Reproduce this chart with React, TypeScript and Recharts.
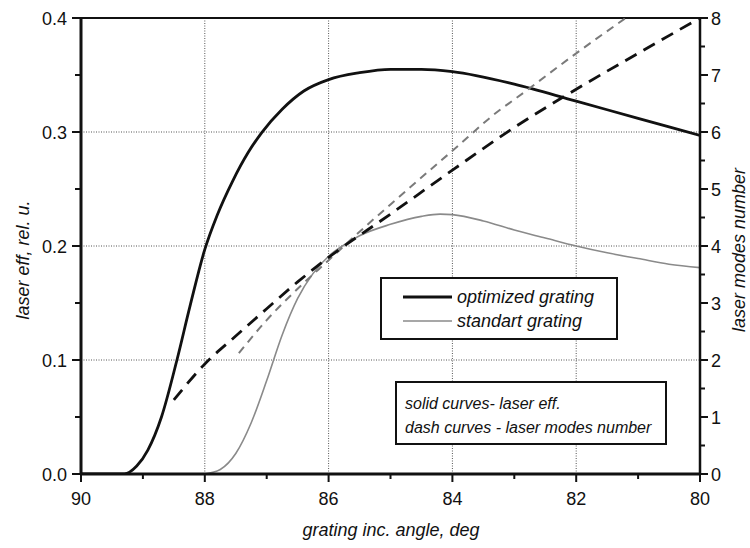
import React from 'react'
import { ComposedChart, Line, XAxis, YAxis, ReferenceLine } from 'recharts'

// optimized grating, laser efficiency (left axis)
const optAngle = [90, 89.5, 89.3, 89.1, 88.92, 88.7, 88.45, 88.24, 88.0, 87.8, 87.55, 87.3, 87.08, 86.75, 86.4, 86.0, 85.5, 85.0, 84.5, 84.0, 83.0, 82.0, 81.0, 80.0]
const optEff = [0, 0, 0, 0.007, 0.021, 0.05, 0.1, 0.147, 0.197, 0.227, 0.257, 0.282, 0.2995, 0.32, 0.336, 0.346, 0.352, 0.355, 0.355, 0.353, 0.342, 0.327, 0.312, 0.297]

// standart grating, laser efficiency (left axis)
const stdAngle = [88.0, 87.75, 87.5, 87.25, 87.0, 86.75, 86.5, 86.25, 86.0, 85.75, 85.5, 85.0, 84.5, 84.2, 84.0, 83.5, 83.0, 82.5, 82.0, 81.5, 81.0, 80.5, 80.0]
const stdEff = [0, 0.004, 0.018, 0.045, 0.082, 0.122, 0.154, 0.176, 0.191, 0.201, 0.209, 0.219, 0.226, 0.228, 0.2275, 0.222, 0.214, 0.207, 0.2, 0.194, 0.189, 0.184, 0.181]

// laser modes number (right axis)
const optModesAngle = [88.5, 88.0, 87.5, 87.0, 86.5, 86.0, 85.0, 84.0, 83.0, 82.0, 81.0, 80.0]
const optModes = [1.3, 1.93, 2.42, 2.9, 3.37, 3.8, 4.56, 5.33, 6.08, 6.75, 7.38, 8.0]
const stdModesAngle = [87.45, 87.0, 86.5, 86.0, 85.5, 85.0, 84.0, 83.23, 83.0, 82.0, 81.2]
const stdModes = [2.12, 2.7, 3.25, 3.75, 4.25, 4.73, 5.67, 6.39, 6.57, 7.38, 8.0]

const xTicks = [90, 89, 88, 87, 86, 85, 84, 83, 82, 81, 80]
const effTicks = [0, 0.05, 0.1, 0.15, 0.2, 0.25, 0.3, 0.35, 0.4]
const modeTicks = [0, 0.5, 1, 1.5, 2, 2.5, 3, 3.5, 4, 4.5, 5, 5.5, 6, 6.5, 7, 7.5, 8]
const xGrid = [88, 86, 84, 82]
const effGrid = [0.1, 0.2, 0.3]

const toPoints = (xs: number[], ys: number[]) => xs.map((x, i) => ({ x, y: ys[i] }))
const optimizedData = toPoints(optAngle, optEff)
const standartData = toPoints(stdAngle, stdEff)
const optModesData = toPoints(optModesAngle, optModes)
const stdModesData = toPoints(stdModesAngle, stdModes)

const FONT = '"Liberation Sans", Arial, sans-serif'
const INK = '#111'

const XTick = (props: any) => {
  const { x, y, payload } = props
  const major = payload.value % 2 === 0
  return (
    <g>
      <line x1={x} y1={y} x2={x} y2={y + (major ? 8 : 5)} stroke={INK} strokeWidth={2} />
      {major && (
        <text x={x} y={y + 31} textAnchor="middle" fontSize={18} fontFamily={FONT} fill={INK}>
          {payload.value}
        </text>
      )}
    </g>
  )
}

const LeftTick = (props: any) => {
  const { x, y, payload } = props
  const v = payload.value
  const major = Math.abs(v * 10 - Math.round(v * 10)) < 1e-6
  return (
    <g>
      <line x1={x} y1={y} x2={x - (major ? 9 : 6)} y2={y} stroke={INK} strokeWidth={2} />
      {major && (
        <text x={x - 14} y={y + 6.5} textAnchor="end" fontSize={18} fontFamily={FONT} fill={INK}>
          {v.toFixed(1)}
        </text>
      )}
    </g>
  )
}

const RightTick = (props: any) => {
  const { x, y, payload } = props
  const v = payload.value
  const major = Number.isInteger(v)
  return (
    <g>
      <line x1={x} y1={y} x2={x + (major ? 8 : 5)} y2={y} stroke={INK} strokeWidth={2} />
      {major && (
        <text x={x + 11} y={y + 6.5} textAnchor="start" fontSize={18} fontFamily={FONT} fill={INK}>
          {v}
        </text>
      )}
    </g>
  )
}

export default function App() {
  return (
    <div style={{ position: 'absolute', left: 0, top: 0, width: 750, height: 548, background: '#fff' }}>
      <ComposedChart width={750} height={548} margin={{ top: 18, right: 0, bottom: 0, left: 0 }}>
        <XAxis
          type="number"
          dataKey="x"
          domain={[80, 90]}
          reversed
          ticks={xTicks}
          interval={0}
          tickSize={0}
          tickMargin={0}
          tickLine={false}
          axisLine={{ stroke: INK, strokeWidth: 3 }}
          tick={(p: any) => <XTick {...p} />}
          height={74}
          allowDataOverflow
        />
        <YAxis
          yAxisId="left"
          type="number"
          domain={[0, 0.4]}
          ticks={effTicks}
          interval={0}
          tickSize={0}
          tickMargin={0}
          tickLine={false}
          axisLine={{ stroke: INK, strokeWidth: 3 }}
          tick={(p: any) => <LeftTick {...p} />}
          width={81}
          allowDataOverflow
        />
        <YAxis
          yAxisId="right"
          orientation="right"
          type="number"
          domain={[0, 8]}
          ticks={modeTicks}
          interval={0}
          tickSize={0}
          tickMargin={0}
          tickLine={false}
          axisLine={{ stroke: INK, strokeWidth: 2.5 }}
          tick={(p: any) => <RightTick {...p} />}
          width={50}
          allowDataOverflow
        />
        {xGrid.map((g) => (
          <ReferenceLine key={'x' + g} x={g} yAxisId="left" stroke="#555" strokeWidth={1} strokeDasharray="1 1.5" />
        ))}
        {effGrid.map((g) => (
          <ReferenceLine key={'y' + g} y={g} yAxisId="left" stroke="#555" strokeWidth={1} strokeDasharray="1 1.5" />
        ))}
        <ReferenceLine y={0.4} yAxisId="left" stroke={INK} strokeWidth={2} />
        <Line
          yAxisId="left"
          data={standartData}
          dataKey="y"
          type="monotone"
          stroke="#8a8a8a"
          strokeWidth={1.6}
          dot={false}
          activeDot={false}
          isAnimationActive={false}
        />
        <Line
          yAxisId="left"
          data={optimizedData}
          dataKey="y"
          type="monotone"
          stroke={INK}
          strokeWidth={2.8}
          dot={false}
          activeDot={false}
          isAnimationActive={false}
        />
        <Line
          yAxisId="right"
          data={stdModesData}
          dataKey="y"
          type="monotone"
          stroke="#7a7a7a"
          strokeWidth={2}
          strokeDasharray="8 6"
          dot={false}
          activeDot={false}
          isAnimationActive={false}
        />
        <Line
          yAxisId="right"
          data={optModesData}
          dataKey="y"
          type="monotone"
          stroke={INK}
          strokeWidth={2.8}
          strokeDasharray="13 8"
          dot={false}
          activeDot={false}
          isAnimationActive={false}
        />
      </ComposedChart>
      <svg
        width={750}
        height={548}
        style={{ position: 'absolute', left: 0, top: 0, pointerEvents: 'none' }}
        fontFamily={FONT}
        fontStyle="italic"
        fill={INK}
      >
        <text x={29} y={260} fontSize={18} textAnchor="middle" transform="rotate(-90 29 260)">
          laser eff, rel. u.
        </text>
        <text x={745} y={250} fontSize={18} textAnchor="middle" transform="rotate(-90 745 250)">
          laser modes number
        </text>
        <text x={391} y={536} fontSize={18} textAnchor="middle">
          grating inc. angle, deg
        </text>

        <rect x={381} y={278} width={236} height={61} fill="#fff" stroke={INK} strokeWidth={2} />
        <line x1={403} y1={297} x2={452} y2={297} stroke={INK} strokeWidth={3} />
        <line x1={403} y1={321} x2={452} y2={321} stroke="#8a8a8a" strokeWidth={1.6} />
        <text x={457} y={303} fontSize={18}>optimized grating</text>
        <text x={457} y={327} fontSize={18}>standart grating</text>

        <rect x={396} y={382} width={270} height={62} fill="#fff" stroke={INK} strokeWidth={2} />
        <text x={405} y={409} fontSize={16}>solid curves- laser eff.</text>
        <text x={405} y={433} fontSize={16}>dash curves - laser modes number</text>
      </svg>
    </div>
  )
}
